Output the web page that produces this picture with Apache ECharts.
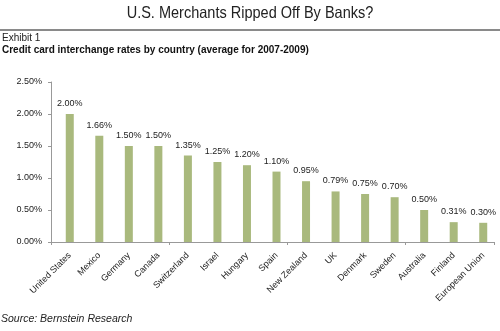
<!DOCTYPE html>
<html>
<head>
<meta charset="utf-8">
<title>U.S. Merchants Ripped Off By Banks?</title>
<script src="https://cdn.jsdelivr.net/npm/echarts@6/dist/echarts.min.js"></script>
<style>
  html, body { margin: 0; padding: 0; background: #fff; }
  #chart { width: 500px; height: 331px; }
</style>
</head>
<body>
<div id="chart"></div>
<script>
// Credit card interchange rates, average 2007-2009 (percent)
const countries = [
  'United States', 'Mexico', 'Germany', 'Canada', 'Switzerland', 'Israel',
  'Hungary', 'Spain', 'New Zealand', 'UK', 'Denmark', 'Sweden',
  'Australia', 'Finland', 'European Union'
];
const rates = [2.00, 1.66, 1.50, 1.50, 1.35, 1.25, 1.20, 1.10, 0.95, 0.79, 0.75, 0.70, 0.50, 0.31, 0.30];
const yTicks = { min: 0, max: 2.5, interval: 0.5 };

const FONT = 'Liberation Sans, Arial, sans-serif';
const pct = v => v.toFixed(2) + '%';

const chart = echarts.init(document.getElementById('chart'), null, { renderer: 'canvas' });

chart.setOption({
  animation: false,
  backgroundColor: '#ffffff',
  textStyle: { fontFamily: FONT },
  title: [
    {
      text: 'Exhibit 1',
      left: 2, top: 33, padding: 0,
      textStyle: { fontFamily: FONT, fontSize: 10, fontWeight: 'normal', color: '#222' }
    },
    {
      text: 'Credit card interchange rates by country (average for 2007-2009)',
      left: 2, top: 45, padding: 0,
      textStyle: { fontFamily: FONT, fontSize: 10, fontWeight: 'bold', color: '#111' }
    },
    {
      text: 'Source: Bernstein Research',
      left: 1, top: 314, padding: 0,
      textStyle: { fontFamily: FONT, fontSize: 10.5, fontWeight: 'normal', fontStyle: 'italic', color: '#222' }
    }
  ],
  graphic: [
    {
      // condensed headline
      type: 'text',
      x: 250, y: 13, scaleX: 0.88,
      style: {
        text: 'U.S. Merchants Ripped Off By Banks?',
        font: 'normal 16.5px ' + FONT,
        fill: '#222',
        textAlign: 'center', textVerticalAlign: 'middle'
      },
      silent: true
    },
    {
      type: 'rect',
      shape: { x: 0, y: 29, width: 500, height: 2 },
      style: { fill: '#8a8a8a' },
      silent: true
    }
  ],
  grid: [
    // frame grid: value axis and tick marks between categories
    { left: 51, right: 6, top: 82, bottom: 89 },
    // bar grid, shifted slightly right within the frame
    { left: 55, right: 2, top: 82, bottom: 89 }
  ],
  xAxis: [
    {
      type: 'category', gridIndex: 0, data: countries,
      boundaryGap: true,
      axisLine: { lineStyle: { color: '#999', width: 1 } },
      axisTick: { show: true, length: 3, inside: false, lineStyle: { color: '#999' } },
      axisLabel: { show: false }
    },
    {
      type: 'category', gridIndex: 1, data: countries,
      axisLine: { show: false },
      axisTick: { show: false },
      axisLabel: {
        interval: 0, rotate: 45, margin: 12,
        fontFamily: FONT, fontSize: 9, color: '#222'
      }
    }
  ],
  yAxis: [
    {
      type: 'value', gridIndex: 0,
      min: yTicks.min, max: yTicks.max, interval: yTicks.interval,
      axisLine: { show: true, lineStyle: { color: '#999', width: 1 } },
      axisTick: { show: true, length: 3, lineStyle: { color: '#999' } },
      splitLine: { show: false },
      axisLabel: {
        margin: 9, fontFamily: FONT, fontSize: 9, color: '#222',
        formatter: v => pct(v)
      }
    },
    {
      type: 'value', gridIndex: 1,
      min: yTicks.min, max: yTicks.max, interval: yTicks.interval,
      show: false
    }
  ],
  series: [
    {
      type: 'bar',
      xAxisIndex: 1, yAxisIndex: 1,
      data: rates,
      barWidth: 8,
      itemStyle: { color: '#a9b97d' },
      label: {
        show: true, position: 'top', distance: 6,
        fontFamily: FONT, fontSize: 9, color: '#222',
        formatter: p => pct(p.value)
      }
    }
  ]
});
</script>
</body>
</html>
